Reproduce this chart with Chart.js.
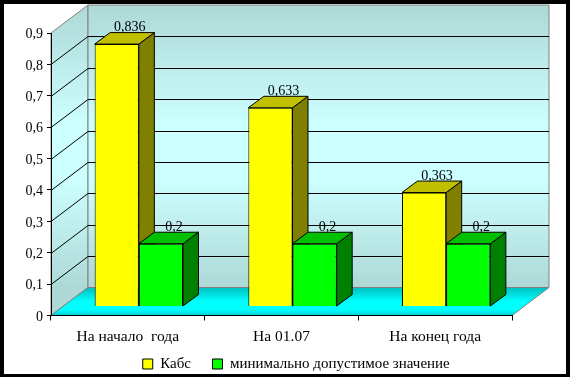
<!DOCTYPE html>
<html>
<head>
<meta charset="utf-8">
<title>Кабс</title>
<style>
  html, body { margin: 0; padding: 0; background: #fff; }
  canvas { display: block; }
</style>
<script src="https://cdn.jsdelivr.net/npm/chart.js@4"></script>
</head>
<body>
<canvas id="chart" width="570" height="377"></canvas>
<script>
var categories = ['На начало  года', 'На 01.07', 'На конец года'];
var seriesNames = ['Кабс', 'минимально допустимое значение'];
var kabsValues = [0.836, 0.633, 0.363];
var minValues = [0.2, 0.2, 0.2];
var yTickLabels = ['0', '0,1', '0,2', '0,3', '0,4', '0,5', '0,6', '0,7', '0,8', '0,9'];
var kabsLabels = ['0,836', '0,633', '0,363'];
var minLabels = ['0,2', '0,2', '0,2'];

var FONT = "'Liberation Serif', serif";
var WALL_DX = 37, WALL_DY = -28;   // depth of the whole box
var BAR_DX = 11, BAR_DY = -9;      // bars stand inside the box
var SIDE_DX = 15.5, SIDE_DY = -11.5; // depth of one bar

var barFaces = [
  { top: '#c0c000', side: '#808000', labels: kabsLabels },
  { top: '#00c000', side: '#008000', labels: minLabels }
];

function poly(ctx, pts, fill, stroke) {
  ctx.beginPath();
  ctx.moveTo(pts[0][0], pts[0][1]);
  for (var i = 1; i < pts.length; i++) ctx.lineTo(pts[i][0], pts[i][1]);
  ctx.closePath();
  if (fill) { ctx.fillStyle = fill; ctx.fill(); }
  if (stroke) { ctx.strokeStyle = stroke; ctx.lineWidth = 1; ctx.stroke(); }
}

/* fake 3D box behind the bars, hung on the real scales */
var boxPlugin = {
  id: 'box3d',
  beforeDraw: function (chart) {
    var ctx = chart.ctx, a = chart.chartArea, y = chart.scales.y;
    var l = a.left, r = a.right, t = a.top, b = a.bottom;
    ctx.save();
    ctx.fillStyle = '#fff';
    ctx.fillRect(0, 0, chart.width, chart.height);

    var wall = ctx.createLinearGradient(0, t + WALL_DY, 0, b + WALL_DY);
    wall.addColorStop(0, '#add8d6');
    wall.addColorStop(0.42, '#ccffff');
    wall.addColorStop(0.62, '#ccffff');
    wall.addColorStop(1, '#add8d6');
    poly(ctx, [[l, t], [l + WALL_DX, t + WALL_DY], [l + WALL_DX, b + WALL_DY], [l, b]], wall, '#808080');
    poly(ctx, [[l + WALL_DX, t + WALL_DY], [r + WALL_DX, t + WALL_DY], [r + WALL_DX, b + WALL_DY], [l + WALL_DX, b + WALL_DY]], wall, '#808080');

    var floor = ctx.createLinearGradient(0, b + WALL_DY, 0, b);
    floor.addColorStop(0, '#00c0c0');
    floor.addColorStop(0.5, '#00ffff');
    floor.addColorStop(0.8, '#00ffff');
    floor.addColorStop(1, '#00d0d0');
    poly(ctx, [[l, b], [l + WALL_DX, b + WALL_DY], [r + WALL_DX, b + WALL_DY], [r, b]], floor, '#808080');

    ctx.strokeStyle = '#000';
    ctx.lineWidth = 1;
    ctx.beginPath();
    for (var i = 1; i < yTickLabels.length - 1; i++) {
      var py = Math.round(y.getPixelForValue(i / 10)) + 0.5;
      ctx.moveTo(l, py);
      ctx.lineTo(l + WALL_DX, py + WALL_DY);
      ctx.lineTo(r + WALL_DX, py + WALL_DY);
    }
    ctx.stroke();
    ctx.restore();
  },
  afterLayout: function (chart) {
    // legend sits off centre and lower in the original
    chart.legend.left = 22.5;
    chart.legend.right = 570;
    chart.legend.top = 335;
  },
  beforeDatasetsDraw: function (chart) {
    // sides and tops first: Chart.js paints green's face, then yellow's
    var ctx = chart.ctx;
    ctx.save();
    ctx.translate(BAR_DX, BAR_DY);
    barFaces.forEach(function (face, d) {
      chart.getDatasetMeta(d).data.forEach(function (bar) {
        var x0 = bar.x - bar.width / 2, x1 = bar.x + bar.width / 2;
        poly(ctx, [[x1, bar.y], [x1 + SIDE_DX, bar.y + SIDE_DY], [x1 + SIDE_DX, bar.base + SIDE_DY], [x1, bar.base]], face.side, '#000');
        poly(ctx, [[x0, bar.y], [x0 + SIDE_DX, bar.y + SIDE_DY], [x1 + SIDE_DX, bar.y + SIDE_DY], [x1, bar.y]], face.top, '#000');
      });
    });
    ctx.restore();
  },
  beforeDatasetDraw: function (chart) {
    chart.ctx.save();
    chart.ctx.translate(BAR_DX, BAR_DY);
  },
  afterDatasetDraw: function (chart) {
    chart.ctx.restore();
  },
  afterDatasetsDraw: function (chart) {
    var ctx = chart.ctx;
    ctx.save();
    ctx.font = '14px ' + FONT;
    ctx.fillStyle = '#000';
    ctx.textAlign = 'center';
    ctx.textBaseline = 'alphabetic';
    barFaces.forEach(function (face, d) {
      chart.getDatasetMeta(d).data.forEach(function (bar, i) {
        ctx.fillText(face.labels[i], bar.x + BAR_DX + 13, bar.y + BAR_DY - 13);
      });
    });
    ctx.restore();
  },
  afterDraw: function (chart) {
    // black frame, thicker on the right and bottom
    var ctx = chart.ctx;
    ctx.save();
    ctx.fillStyle = '#000';
    ctx.fillRect(0, 0, chart.width, 4);
    ctx.fillRect(0, 0, 4, chart.height);
    ctx.fillRect(566, 0, 4, chart.height);
    ctx.fillRect(0, 374, chart.width, 3);
    ctx.restore();
  }
};

new Chart(document.getElementById('chart').getContext('2d'), {
  type: 'bar',
  plugins: [boxPlugin],
  data: {
    labels: categories,
    datasets: [
      { label: seriesNames[0], data: kabsValues, backgroundColor: '#ffff00', borderColor: '#000', borderWidth: 1, clip: false },
      { label: seriesNames[1], data: minValues, backgroundColor: '#00ff00', borderColor: '#000', borderWidth: 1, clip: false }
    ]
  },
  options: {
    responsive: false,
    animation: false,
    devicePixelRatio: 1,
    categoryPercentage: 0.575,
    barPercentage: 1,
    // the legend's wide item gap inflates its box, so let it hang off the bottom
    layout: { padding: { top: 33, right: 58, left: 0, bottom: -18 } },
    plugins: {
      tooltip: { enabled: false },
      legend: {
        display: true,
        position: 'bottom',
        labels: {
          boxWidth: 10,
          boxHeight: 10,
          padding: 21.5,
          color: '#000',
          font: { family: FONT, size: 15 }
        }
      }
    },
    scales: {
      x: {
        afterFit: function (s) { s.height = 33; },
        border: { color: '#000' },
        grid: { drawOnChartArea: false, color: '#000', tickLength: 5 },
        ticks: { color: '#000', padding: 7, maxRotation: 0, font: { family: FONT, size: 15.5 } }
      },
      y: {
        min: 0,
        max: 0.9,
        afterFit: function (s) { s.width = 51; },
        border: { color: '#000' },
        grid: { drawOnChartArea: false, color: '#000', tickLength: 4 },
        ticks: {
          stepSize: 0.1,
          color: '#000',
          padding: 4,
          labelOffset: 1.5,
          font: { family: FONT, size: 14 },
          callback: function (v, i) { return yTickLabels[i]; }
        }
      }
    }
  }
});
</script>
</body>
</html>
